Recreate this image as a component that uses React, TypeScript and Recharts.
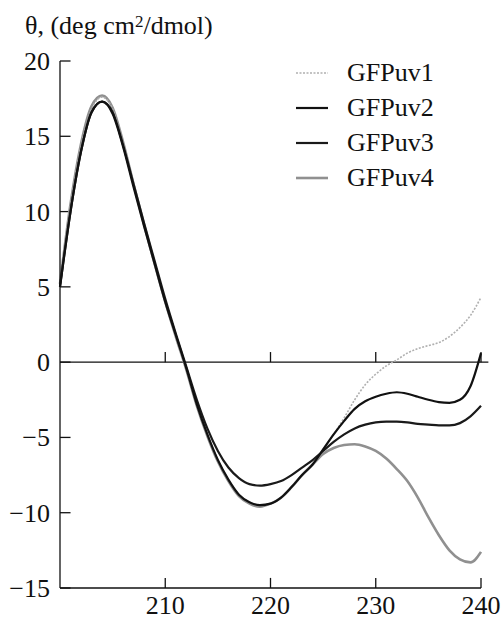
import React from 'react';
import { LineChart, Line, XAxis, YAxis, ReferenceLine } from 'recharts';

// wavelength, nm
const wavelengths = [
  200, 201, 202, 203, 204, 205, 206, 207, 208, 209,
  210, 211, 212, 213, 214, 215, 216, 217, 218, 219,
  220, 221, 222, 223, 224, 225, 226, 227, 228, 229,
  230, 231, 232, 233, 234, 235, 236, 237, 238, 239, 240,
];

const gfpuv1 = [
  5.0, 10.3, 14.3, 16.8, 17.6, 16.8, 14.5, 11.8, 9.1, 6.6,
  4.1, 1.8, -0.4, -2.8, -4.8, -6.5, -7.8, -8.8, -9.3, -9.5,
  -9.4, -9.0, -8.3, -7.5, -6.8, -5.8, -4.8, -3.7, -2.5, -1.5,
  -0.8, -0.25, 0.15, 0.6, 0.9, 1.1, 1.3, 1.7, 2.3, 3.1, 4.3,
];

const gfpuv2 = [
  5.0, 10.0, 14.0, 16.6, 17.3, 16.5, 14.3, 11.6, 9.0, 6.5,
  4.0, 1.8, -0.4, -2.8, -4.8, -6.5, -7.8, -8.8, -9.3, -9.5,
  -9.4, -9.0, -8.3, -7.5, -6.8, -5.8, -4.8, -3.9, -3.1, -2.6,
  -2.3, -2.1, -2.0, -2.1, -2.3, -2.5, -2.65, -2.7, -2.5, -1.6, 0.6,
];

const gfpuv3 = [
  5.0, 10.0, 14.0, 16.6, 17.3, 16.6, 14.4, 11.8, 9.2, 6.7,
  4.2, 1.9, -0.3, -2.5, -4.4, -5.9, -7.0, -7.7, -8.1, -8.2,
  -8.1, -7.9, -7.5, -7.0, -6.5, -5.9, -5.3, -4.8, -4.4, -4.15,
  -4.0, -3.95, -3.95, -4.0, -4.1, -4.15, -4.2, -4.2, -4.05, -3.6, -2.9,
];

const gfpuv4 = [
  5.2, 10.5, 14.5, 17.0, 17.7, 16.9, 14.6, 11.8, 9.1, 6.5,
  4.0, 1.7, -0.5, -2.9, -4.9, -6.6, -7.9, -8.9, -9.4, -9.6,
  -9.4, -9.0, -8.3, -7.5, -6.8, -6.1, -5.7, -5.5, -5.45, -5.6,
  -5.9, -6.4, -7.1, -7.9, -9.0, -10.3, -11.5, -12.5, -13.1, -13.3, -12.6,
];

const xTicks = [210, 220, 230, 240];
const yTicks = [-15, -10, -5, 0, 5, 10, 15, 20];

const series = [
  { key: 'uv1', name: 'GFPuv1', color: '#b0b0b0', width: 1.6, dash: '2 1.5' },
  { key: 'uv2', name: 'GFPuv2', color: '#111111', width: 2.2, dash: undefined },
  { key: 'uv3', name: 'GFPuv3', color: '#1a1a1a', width: 2.2, dash: undefined },
  { key: 'uv4', name: 'GFPuv4', color: '#909090', width: 2.6, dash: undefined },
];

const data = wavelengths.map((w, i) => ({
  w,
  uv1: gfpuv1[i],
  uv2: gfpuv2[i],
  uv3: gfpuv3[i],
  uv4: gfpuv4[i],
}));

const font = "'Liberation Serif', 'Times New Roman', serif";

const XTick = (props: any) => {
  const { x, y, payload } = props;
  return (
    <text x={x} y={y + 18} textAnchor="middle" style={{ fontFamily: font, fontSize: 26 }} fill="#111">
      {payload.value}
    </text>
  );
};

const YTick = (props: any) => {
  const { x, y, payload } = props;
  return (
    <text x={x} y={y + 9} textAnchor="end" style={{ fontFamily: font, fontSize: 26 }} fill="#111">
      {String(payload.value).replace('-', '\u2212')}
    </text>
  );
};

const ChartLegend = () => (
  <div style={{ position: 'absolute', left: 296, top: 55, fontFamily: font, fontSize: 26, color: '#111' }}>
    {series.map((s) => (
      <div key={s.key} style={{ display: 'flex', alignItems: 'center', height: 35 }}>
        <svg width={32} height={6} style={{ marginRight: 19 }}>
          <line x1={0} y1={3} x2={32} y2={3} stroke={s.color} strokeWidth={s.width} strokeDasharray={s.dash} />
        </svg>
        <span>{s.name}</span>
      </div>
    ))}
  </div>
);

const App: React.FC = () => {
  return (
    <div style={{ position: 'absolute', left: 0, top: 0, width: 501, height: 620, background: '#fff' }}>
      <div style={{ position: 'absolute', left: 25, top: 12, fontFamily: font, fontSize: 26, lineHeight: '27px', color: '#111', whiteSpace: 'nowrap' }}>
        θ, (deg cm<sup style={{ fontSize: 17, verticalAlign: 'top', position: 'relative', top: -4 }}>2</sup>/dmol)
      </div>
      <LineChart width={501} height={620} data={data} margin={{ top: 61, right: 20, left: 0, bottom: 0 }}>
        <XAxis
          dataKey="w"
          type="number"
          domain={[200, 240]}
          ticks={xTicks}
          height={32}
          tickLine={false}
          tickSize={0}
          tickMargin={8}
          tick={<XTick />}
          axisLine={{ stroke: '#111', strokeWidth: 1.3 }}
        />
        <YAxis
          type="number"
          domain={[-15, 20]}
          ticks={yTicks}
          width={60}
          tickLine={false}
          tickSize={0}
          tickMargin={10}
          tick={<YTick />}
          axisLine={{ stroke: '#111', strokeWidth: 1.3 }}
        />
        <ReferenceLine segment={[{ x: 200, y: 0 }, { x: 240.7, y: 0 }]} stroke="#111" strokeWidth={1.3} ifOverflow="visible" />
        {yTicks.map((t) => (
          <ReferenceLine key={`yt${t}`} segment={[{ x: 200, y: t }, { x: 201, y: t }]} stroke="#111" strokeWidth={1.3} ifOverflow="visible" />
        ))}
        {xTicks.map((t) => (
          <ReferenceLine key={`xb${t}`} segment={[{ x: t, y: -15 }, { x: t, y: -14.33 }]} stroke="#111" strokeWidth={1.3} ifOverflow="visible" />
        ))}
        {xTicks.map((t) => (
          <ReferenceLine key={`xz${t}`} segment={[{ x: t, y: 0 }, { x: t, y: 0.67 }]} stroke="#111" strokeWidth={1.3} ifOverflow="visible" />
        ))}
        {[series[3], series[0], series[2], series[1]].map((s) => (
          <Line
            key={s.key}
            type="monotone"
            dataKey={s.key}
            name={s.name}
            stroke={s.color}
            strokeWidth={s.width}
            strokeDasharray={s.dash}
            dot={false}
            activeDot={false}
            isAnimationActive={false}
          />
        ))}
      </LineChart>
      <ChartLegend />
    </div>
  );
};

export default App;
